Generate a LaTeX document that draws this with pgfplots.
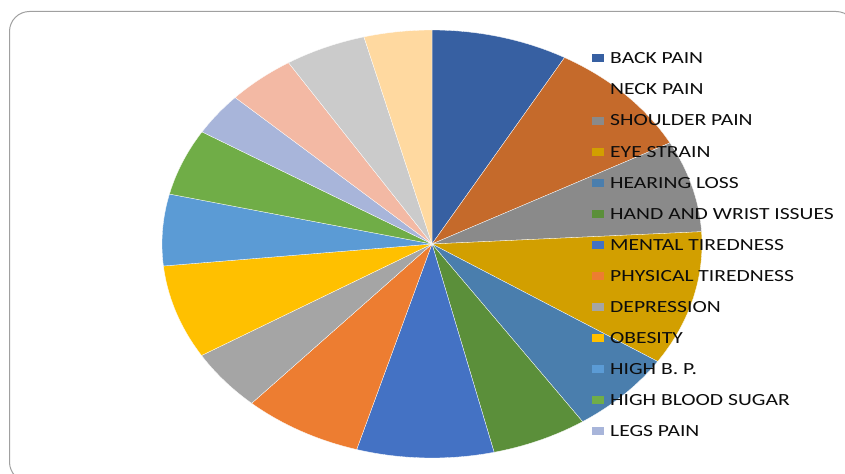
\documentclass[border=0pt]{standalone}
\usepackage{pgfplots}
\pgfplotsset{compat=1.18}
\usepackage{pgfplotstable}
\usepackage{fontspec}
\setmainfont{Carlito}[FakeStretch=1.27]

\definecolor{c0}{HTML}{3760A2}
\definecolor{c1}{HTML}{C56A2B}
\definecolor{c2}{HTML}{8A8A8A}
\definecolor{c3}{HTML}{D29F00}
\definecolor{c4}{HTML}{4A7EAD}
\definecolor{c5}{HTML}{5B8F3A}
\definecolor{c6}{HTML}{4472C4}
\definecolor{c7}{HTML}{ED7D31}
\definecolor{c8}{HTML}{A5A5A5}
\definecolor{c9}{HTML}{FFC000}
\definecolor{c10}{HTML}{5B9BD5}
\definecolor{c11}{HTML}{70AD47}
\definecolor{c12}{HTML}{A8B5DA}
\definecolor{c13}{HTML}{F3B9A4}
\definecolor{c14}{HTML}{CBCBCB}
\definecolor{c15}{HTML}{FFD9A0}
\definecolor{textc}{HTML}{0D0D0D}
\definecolor{framec}{HTML}{A0A0A0}

% slice sizes in degrees (clockwise from 12 o'clock)
\pgfplotstableread[col sep=comma,row sep=\\]{
name,value\\
BACK PAIN,29.4\\
NECK PAIN,32.4\\
SHOULDER PAIN,24.9\\
EYE STRAIN,36.6\\
HEARING LOSS,22.8\\
HAND AND WRIST ISSUES,20.6\\
MENTAL TIREDNESS,29.5\\
PHYSICAL TIREDNESS,25.7\\
DEPRESSION,16.7\\
OBESITY,25.5\\
HIGH B. P.,19.4\\
HIGH BLOOD SUGAR,18.1\\
LEGS PAIN,11.6\\
OTHER 1,14.7\\
OTHER 2,17.5\\
OTHER 3,14.6\\
}\piedata

\begin{document}
\begin{tikzpicture}
\useasboundingbox (0,0) rectangle (845bp,474bp);
\clip (0,0) rectangle (845bp,474bp);
\fill[white] (0,0) rectangle (845bp,474bp);
\draw[framec, line width=1bp, rounded corners=20bp] (9.5bp,462.5bp) rectangle (856bp,-8bp);
\def\cum{0}
\begin{axis}[
  hide axis, scale only axis,
  width=540bp, height=428bp,
  xmin=-1, xmax=1, ymin=-1, ymax=1,
  at={(162bp,16bp)}, anchor=south west,
  clip=false,
  legend cell align=left,
  legend image code/.code={\path[#1,draw=none] (0bp,-4bp) rectangle (12bp,4bp);},
  legend style={draw=none, fill=none, at={(0.7963,0.9703)}, anchor=north west,
    inner sep=0pt, row sep=0pt, column sep=6bp,
    font=\fontsize{17bp}{20bp}\selectfont, text=textc,
    nodes={inner sep=0pt, text height=10.9bp, text depth=0bp, minimum height=31.04bp}},
]
\pgfplotsforeachungrouped \i in {0,...,15}{%
  \pgfplotstablegetelem{\i}{value}\of\piedata
  \let\val\pgfplotsretval
  \pgfplotstablegetelem{\i}{name}\of\piedata
  \let\nm\pgfplotsretval
  \pgfmathsetmacro\a{90-\cum}%
  \pgfmathsetmacro\b{90-\cum-\val}%
  \pgfmathsetmacro\cum{\cum+\val}%
  \ifnum\i<13 \def\extra{}\else\def\extra{,forget plot}\fi
  \edef\temp{\noexpand\addplot[fill=c\i, draw=white, line width=0.3bp, domain=\b:\a, samples=60\extra] ({cos(x)},{sin(x)}) -- (axis cs:0,0) -- cycle;}%
  \temp
  \ifnum\i<13 \edef\temp{\noexpand\addlegendentry{\nm}}\temp\fi
}
\end{axis}
\end{tikzpicture}
\end{document}
